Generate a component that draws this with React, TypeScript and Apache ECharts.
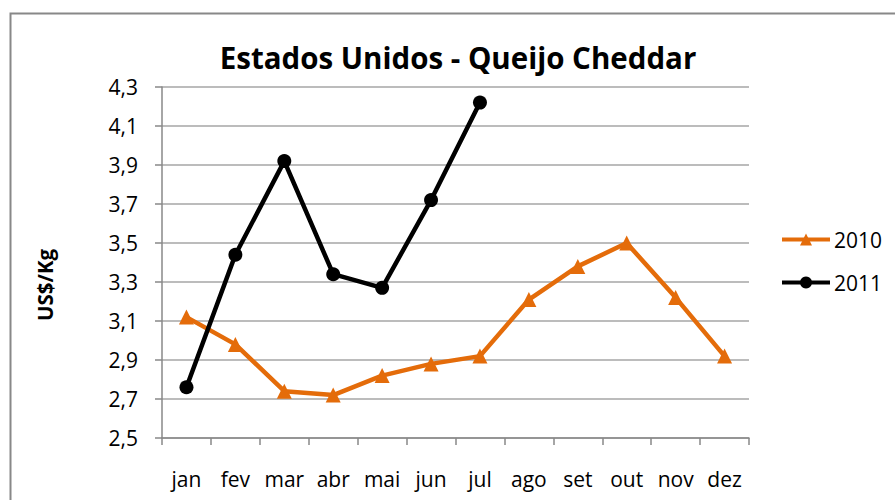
import React, { useEffect, useRef } from "react";
import * as echarts from "echarts";

const months = ["jan", "fev", "mar", "abr", "mai", "jun", "jul", "ago", "set", "out", "nov", "dez"];
const values2010 = [3.12, 2.98, 2.74, 2.72, 2.82, 2.88, 2.92, 3.21, 3.38, 3.5, 3.22, 2.92];
const values2011 = [2.76, 3.44, 3.92, 3.34, 3.27, 3.72, 4.22];
const yMin = 2.5;
const yMax = 4.3;
const yStep = 0.2;
const titleText = "Estados Unidos - Queijo Cheddar";
const yAxisTitle = "US$/Kg";

const FONT = "'Open Sans', sans-serif";

export default function App() {
  const ref = useRef<HTMLDivElement>(null);
  useEffect(() => {
    if (!ref.current) return;
    const chart = echarts.init(ref.current, undefined, { renderer: "svg" });
    const shift = (v: number) => Math.round((v - yMin) * 1000) / 1000;
    chart.setOption({
      animation: false,
      backgroundColor: "#ffffff",
      textStyle: { fontFamily: FONT },
      grid: { left: 162, right: 146, top: 87, bottom: 62 },
      graphic: [
        {
          type: "rect",
          shape: { x: 10.5, y: 13.5, width: 960, height: 560 },
          style: { fill: "none", stroke: "#888888", lineWidth: 2 },
          silent: true,
        },
        {
          type: "text",
          x: 458,
          y: 57,
          style: {
            text: titleText,
            fontFamily: FONT,
            fontWeight: "bold",
            fontSize: 29.5,
            fill: "#000000",
            textAlign: "center",
            textVerticalAlign: "middle",
          },
        },
        {
          type: "text",
          x: 45,
          y: 285,
          rotation: Math.PI / 2,
          style: {
            text: yAxisTitle,
            fontFamily: FONT,
            fontWeight: "bold",
            fontSize: 20.5,
            fill: "#000000",
            textAlign: "center",
            textVerticalAlign: "middle",
          },
        },
      ],
      legend: {
        orient: "vertical",
        left: 775,
        top: 224,
        itemWidth: 48,
        itemHeight: 15,
        itemGap: 22,
        lineStyle: { width: 4 },
        textStyle: { fontFamily: FONT, fontSize: 21, color: "#000000", padding: [0, 0, 0, -1] },
        data: ["2010", "2011"],
      },
      xAxis: {
        type: "category",
        data: months,
        boundaryGap: true,
        axisLine: { show: true, lineStyle: { color: "#888888", width: 1.5 } },
        axisTick: { show: true, length: 7, lineStyle: { color: "#888888", width: 1.5 } },
        axisLabel: { fontFamily: FONT, fontSize: 21, color: "#000000", margin: 30, interval: 0 },
        splitLine: { show: false },
      },
      yAxis: {
        type: "value",
        min: 0,
        max: shift(yMax),
        interval: yStep,
        axisLine: { show: true, lineStyle: { color: "#888888", width: 1.5 } },
        axisTick: { show: true, length: 7, lineStyle: { color: "#888888", width: 1.5 } },
        axisLabel: {
          fontFamily: FONT,
          fontSize: 21,
          color: "#000000",
          margin: 24,
          formatter: (v: number) => (v + yMin).toFixed(1).replace(".", ","),
        },
        splitLine: { show: true, lineStyle: { color: "#a6a6a6", width: 1.5 } },
      },
      series: [
        {
          name: "2010",
          type: "line",
          data: values2010.map(shift),
          symbol: "triangle",
          symbolSize: 15,
          lineStyle: { color: "#E46C0A", width: 4.5 },
          itemStyle: { color: "#E46C0A" },
        },
        {
          name: "2011",
          type: "line",
          data: values2011.map(shift),
          symbol: "circle",
          symbolSize: 14,
          lineStyle: { color: "#000000", width: 4.5 },
          itemStyle: { color: "#000000" },
        },
      ],
    });
    return () => chart.dispose();
  }, []);
  return (
    <div style={{ position: "fixed", left: 0, top: 0, width: 895, height: 500, background: "#fff" }}>
      <div ref={ref} style={{ width: 895, height: 500 }} />
    </div>
  );
}
